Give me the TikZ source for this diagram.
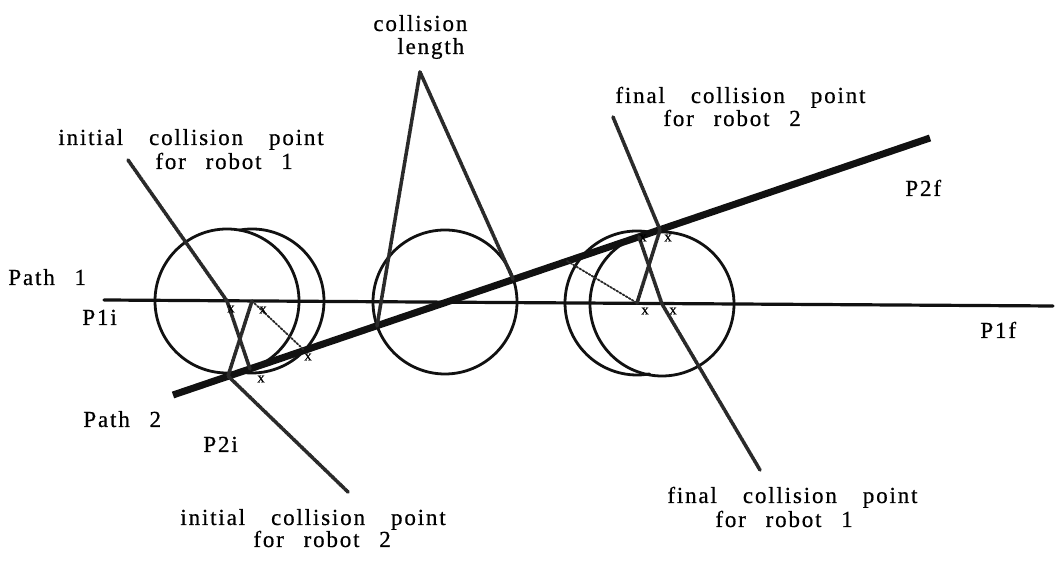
\documentclass[tikz,border=0pt]{standalone}
\usepackage{fontspec}
\setmainfont{Liberation Serif}[LetterSpace=8,WordSpace=2.6,FakeBold=0.6]
\newcommand\lgap{\hspace{13pt}}
\definecolor{ink}{HTML}{111111}
\definecolor{hatch}{HTML}{2a2a2a}
\begin{document}
\begin{tikzpicture}[
  x=0.5pt, y=-0.5pt,
  line cap=round, line join=round,
  every node/.style={font=\fontsize{11.5pt}{13pt}\selectfont, inner sep=0pt, anchor=base west},
  path1/.style={draw=ink, line width=1.6pt},
  path2/.style={draw=ink, line width=3.5pt, line cap=butt},
  robot/.style={draw=ink, line width=1.4pt},
  construction/.style={draw=hatch, line width=1.8pt, dash pattern=on 1.4pt off 0.4pt},
  radius line/.style={draw=hatch, line width=0.9pt, dash pattern=on 1pt off 0.8pt},
  xmark/.style={font=\fontsize{7.5pt}{7.5pt}\selectfont, anchor=center},
]
\useasboundingbox (0,0) rectangle (1060,565);
\coordinate (P1i) at (104,300);
\coordinate (P1f) at (1053,306);
\coordinate (P2i) at (173,395);
\coordinate (P2f) at (930,138);
\coordinate (cA) at (227,301);
\coordinate (cB) at (252,301);
\coordinate (cC) at (445,302);
\coordinate (cD) at (637,303);
\coordinate (cE) at (662,304);
\coordinate (tA) at (250,369);
\coordinate (iB) at (228,376);
\coordinate (oB) at (304,350);
\coordinate (lC) at (377,326);
\coordinate (rC) at (513,279);
\coordinate (oD) at (567,261);
\coordinate (fD) at (660,230);
\coordinate (tE) at (639,237);
\coordinate (apex) at (420,72);
\coordinate (q1) at (128,160);
\coordinate (q2) at (348,492);
\coordinate (q3) at (613,117);
\coordinate (q4) at (760,470);
\draw[robot] (cA) circle (72);
\draw[robot] (cB) ++(-100:72) arc[start angle=-100, end angle=100, radius=72];
\draw[robot] (cC) circle (72);
\draw[robot] (cD) ++(-80:72) arc[start angle=-80, end angle=-280, radius=72];
\draw[robot] (cE) circle (72);
\draw[path1] (P1i) -- (P1f);
\draw[path2] (P2i) -- (P2f);
\draw[construction] (q1) -- (cA) -- (tA);
\draw[construction] (cB) -- (iB) -- (q2);
\draw[radius line] (cB) -- (oB);
\draw[construction] (lC) -- (apex) -- (rC);
\draw[construction] (q3) -- (fD) -- (cD);
\draw[construction] (tE) -- (cE) -- (q4);
\draw[radius line] (oD) -- (cD);
\node[xmark] (xa) at (231,309) {x};
\node[xmark] (xb) at (263,310) {x};
\node[xmark] (xc) at (261,379) {x};
\node[xmark] (xd) at (308,357) {x};
\node[xmark] (xe) at (643,238) {x};
\node[xmark] (xf) at (668,238) {x};
\node[xmark] (xg) at (645,311) {x};
\node[xmark] (xh) at (673,311) {x};
\node (clen1) at (373,31) {collision};
\node (clen2) at (397,54) {length};
\node (icp1a) at (58,145) {initial\lgap collision\lgap point};
\node (icp1b) at (155,169) {for robot 1};
\node (icp2a) at (180,525) {initial\lgap collision\lgap point};
\node (icp2b) at (253,547) {for robot 2};
\node (fcp2a) at (615,103) {final\lgap collision\lgap point};
\node (fcp2b) at (663,126) {for robot 2};
\node (fcp1a) at (667,503) {final\lgap collision\lgap point};
\node (fcp1b) at (715,527) {for robot 1};
\node (path1) at (8,285) {Path 1};
\node (p1i) at (82,325) {P1i};
\node (path2) at (83,427) {Path 2};
\node (p2i) at (203,452) {P2i};
\node (p2f) at (905,196) {P2f};
\node (p1f) at (980,338) {P1f};
\end{tikzpicture}
\end{document}
